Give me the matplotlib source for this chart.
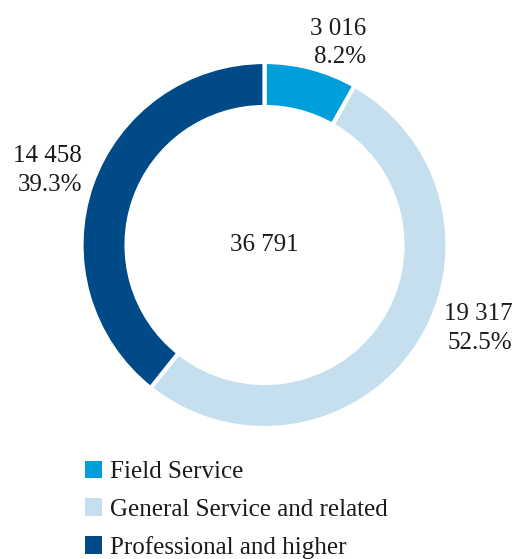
import matplotlib
matplotlib.use("Agg")
import matplotlib.pyplot as plt
from matplotlib.patches import Patch

# staff by category
categories = ["Field Service", "General Service and related", "Professional and higher"]
counts = [3016, 19317, 14458]
colors = ["#009EDB", "#C5DFEF", "#004A87"]

# where the value labels sit (data coords, right edge / middle of the block)
label_pos = [(0.555, 1.105), (1.355, -0.457), (-0.997, 0.408)]

plt.rcParams["font.family"] = ["Liberation Serif", "DejaVu Serif"]
FS = 18

W, H = 516, 559
fig = plt.figure(figsize=(W / 100, H / 100), dpi=100)
fig.patch.set_facecolor("white")

# donut centre and radius in pixels
cx, cy, R = 264.5, 245, 183
ax = fig.add_axes([(cx - R) / W, (H - cy - R) / H, 2 * R / W, 2 * R / H])

wedges, _ = ax.pie(counts, colors=colors, startangle=90, counterclock=False,
                   radius=1.0,
                   wedgeprops=dict(width=0.246, edgecolor="white", linewidth=3))
ax.set_xlim(-1, 1)
ax.set_ylim(-1, 1)
ax.set_aspect("auto")
ax.axis("off")

total = sum(counts)
fmt = lambda n: f"{n:,}".replace(",", " ")

for n, (x, y) in zip(counts, label_pos):
    pct = n / total * 100
    ax.text(x, y, f"{fmt(n)}\n{pct:.1f}%", ha="right", va="center",
            multialignment="right", fontsize=FS, linespacing=1.38,
            color="#1a1a1a", clip_on=False)

ax.text(0, 0, fmt(total), ha="center", va="center", fontsize=FS, color="#1a1a1a")

handles = [Patch(facecolor=c, edgecolor="none") for c in colors]
fig.legend(handles, categories, loc="upper left",
           bbox_to_anchor=(85 / W, 1 - 461 / H), frameon=False,
           fontsize=FS, handlelength=0.68, handleheight=0.68,
           handletextpad=0.32, labelspacing=0.6, borderpad=0,
           borderaxespad=0, labelcolor="#1a1a1a")

plt.savefig("out.png", dpi=100, facecolor="white")
